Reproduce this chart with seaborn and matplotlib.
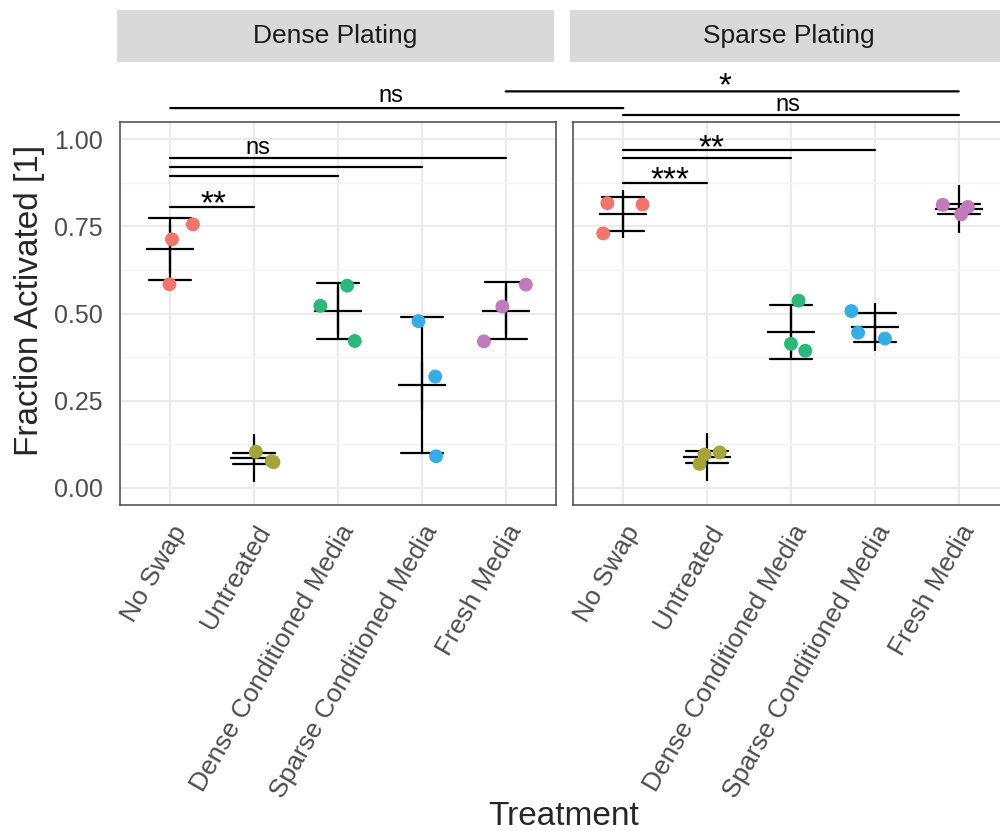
import numpy as np
import pandas as pd
import matplotlib
matplotlib.use("Agg")
import matplotlib.pyplot as plt
from matplotlib.patches import ConnectionPatch
from matplotlib.ticker import MultipleLocator
from matplotlib.transforms import ScaledTranslation
import seaborn as sns

# ---- data -------------------------------------------------------------
treatments = ["No Swap", "Untreated", "Dense Conditioned Media",
              "Sparse Conditioned Media", "Fresh Media"]
platings = ["Dense Plating", "Sparse Plating"]

# three replicate wells per treatment
dense_values = [
    [0.756, 0.713, 0.584],
    [0.103, 0.073, 0.076],
    [0.580, 0.522, 0.421],
    [0.478, 0.319, 0.090],
    [0.583, 0.520, 0.420],
]
sparse_values = [
    [0.817, 0.813, 0.730],
    [0.101, 0.095, 0.068],
    [0.537, 0.413, 0.393],
    [0.507, 0.445, 0.428],
    [0.812, 0.806, 0.785],
]

# horizontal jitter of each replicate (category units)
dense_jitter = [
    [0.27, 0.02, -0.01],
    [0.02, 0.23, 0.21],
    [0.11, -0.21, 0.20],
    [-0.04, 0.16, 0.17],
    [0.24, -0.04, -0.26],
]
sparse_jitter = [
    [-0.19, 0.23, -0.24],
    [0.15, -0.03, -0.09],
    [0.09, 0.00, 0.17],
    [-0.28, -0.20, 0.12],
    [-0.19, 0.11, 0.03],
]

colors = ["#F0766D", "#A4A43A", "#2CB87B", "#37ADE6", "#C17BBD"]

# significance brackets inside a facet: (facet, group a, group b, height)
within_brackets = [
    ("Dense Plating", 0, 1, 0.806),
    ("Dense Plating", 0, 2, 0.895),
    ("Dense Plating", 0, 3, 0.921),
    ("Dense Plating", 0, 4, 0.946),
    ("Sparse Plating", 0, 1, 0.875),
    ("Sparse Plating", 0, 2, 0.946),
    ("Sparse Plating", 0, 3, 0.971),
    ("Sparse Plating", 0, 4, 1.071),
]
# brackets between facets for the same treatment: (group, height)
cross_brackets = [(0, 1.090), (4, 1.138)]

# significance labels: (facet, x position, height, text)
sig_labels = [
    ("Dense Plating", 0.52, 0.820, "**"),
    ("Dense Plating", 1.04, 0.959, "ns"),
    ("Dense Plating", 2.63, 1.107, "ns"),
    ("Sparse Plating", 0.56, 0.890, "***"),
    ("Sparse Plating", 1.05, 0.980, "**"),
    ("Sparse Plating", 1.96, 1.083, "ns"),
    ("Sparse Plating", 1.21, 1.158, "*"),
]

# ---- tidy frame -------------------------------------------------------
rows = []
for plating, vals, jit in [("Dense Plating", dense_values, dense_jitter),
                           ("Sparse Plating", sparse_values, sparse_jitter)]:
    for ti, t in enumerate(treatments):
        for v, j in zip(vals[ti], jit[ti]):
            rows.append({"Plating": plating, "Treatment": t,
                         "Fraction": v, "xpos": ti + j})
df = pd.DataFrame(rows)

# ---- style ------------------------------------------------------------
sns.set_style("white")
plt.rcParams["font.family"] = ["Liberation Sans", "DejaVu Sans"]

W, H = 1000, 831
fig = plt.figure(figsize=(W / 100, H / 100), dpi=100)


def fig_rect(x0, y0, x1, y1):
    return [x0 / W, 1 - y1 / H, (x1 - x0) / W, (y1 - y0) / H]


panel_px = {"Dense Plating": (120, 556), "Sparse Plating": (573, 1009)}
axes = {}
for plating in platings:
    x0, x1 = panel_px[plating]
    ax = fig.add_axes(fig_rect(x0, 122, x1, 505))
    axes[plating] = ax
    sub = df[df["Plating"] == plating]

    sns.pointplot(data=sub, x="Treatment", y="Fraction", order=treatments,
                  errorbar="sd", capsize=0.5, color="black",
                  linestyle="none", marker="+", markersize=35,
                  markeredgewidth=1.6, err_kws={"linewidth": 1.6},
                  ax=ax, zorder=3)
    sns.scatterplot(data=sub, x="xpos", y="Fraction", hue="Treatment",
                    hue_order=treatments, palette=colors, s=100,
                    linewidth=0, legend=False, ax=ax, zorder=4)

    ax.set_xlim(-0.6, 4.6)
    ax.set_ylim(-0.05, 1.05)
    ax.set_xticks(range(len(treatments)))
    ax.set_xticklabels(treatments, rotation=60, ha="right", va="top",
                       rotation_mode="anchor", fontsize=19, color="#4D4D4D")
    shift = ScaledTranslation(13 / 100, 0, fig.dpi_scale_trans)
    for lab in ax.get_xticklabels():
        lab.set_transform(lab.get_transform() + shift)
    ax.set_yticks([0, 0.25, 0.5, 0.75, 1.0])
    ax.yaxis.set_minor_locator(MultipleLocator(0.125))
    ax.set_axisbelow(True)
    ax.grid(True, which="major", color="#EBEBEB", linewidth=1.5)
    ax.grid(True, which="minor", axis="y", color="#F3F3F3", linewidth=1.0)
    ax.tick_params(which="minor", length=0)
    ax.tick_params(axis="both", which="major", length=5.5, width=1.0,
                   color="#333333", pad=6)
    ax.tick_params(axis="y", labelsize=18, labelcolor="#4D4D4D", pad=7)
    for sp in ax.spines.values():
        sp.set_visible(True)
        sp.set_color("#555555")
        sp.set_linewidth(1.2)
    ax.set_xlabel("")
    ax.set_ylabel("")
    if plating == "Sparse Plating":
        ax.tick_params(axis="y", length=0, labelleft=False)

    # facet strip
    sax = fig.add_axes(fig_rect(x0 - 3, 10, x1 - 2, 62))
    sax.set_facecolor("#D9D9D9")
    sax.set_xticks([])
    sax.set_yticks([])
    for sp in sax.spines.values():
        sp.set_visible(False)
    sax.text(0.5, 0.5, plating, ha="center", va="center", fontsize=19,
             color="#1A1A1A", transform=sax.transAxes)

# ---- significance annotations -----------------------------------------
for plating, a, b, y in within_brackets:
    axes[plating].plot([a, b], [y, y], color="black", lw=1.6,
                       clip_on=False, zorder=5)

for g, y in cross_brackets:
    con = ConnectionPatch(xyA=(g, y), coordsA=axes["Dense Plating"].transData,
                          xyB=(g, y), coordsB=axes["Sparse Plating"].transData,
                          color="black", lw=1.6)
    fig.add_artist(con)

for plating, x, y, text in sig_labels:
    star = text.startswith("*")
    axes[plating].annotate(text, xy=(x, y),
                           xytext=(0, -8 if star else 0),
                           textcoords="offset points", ha="center",
                           va="baseline", fontsize=24 if star else 17,
                           color="black", annotation_clip=False)

# ---- axis titles ------------------------------------------------------
fig.text(38 / W, 1 - 300 / H, "Fraction Activated [1]", rotation=90,
         rotation_mode="anchor", ha="center", va="baseline", fontsize=24)
fig.text(564 / W, 1 - 825 / H, "Treatment", ha="center", va="baseline",
         fontsize=24)

fig.savefig("out.png", dpi=100)
